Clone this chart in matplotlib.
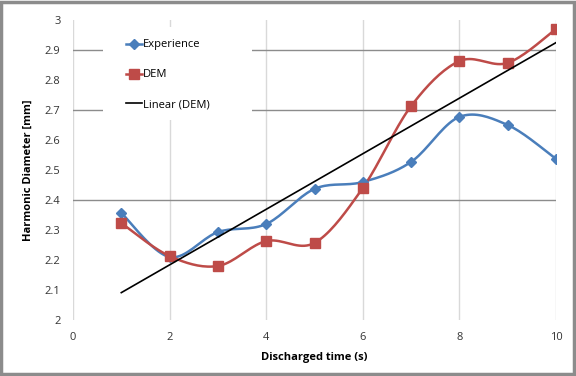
import matplotlib.pyplot as plt
import numpy as np
from matplotlib.patches import Rectangle

plt.rcParams['font.family'] = ['Open Sans', 'DejaVu Sans']

# data
time = [1, 2, 3, 4, 5, 6, 7, 8, 9, 10]
experience = [2.357, 2.21, 2.293, 2.32, 2.437, 2.46, 2.527, 2.677, 2.65, 2.537]
dem = [2.323, 2.213, 2.18, 2.263, 2.257, 2.44, 2.713, 2.863, 2.857, 2.97]
xticks = [0, 2, 4, 6, 8, 10]
yticks = [2, 2.1, 2.2, 2.3, 2.4, 2.5, 2.6, 2.7, 2.8, 2.9, 3]
hlines = [2.4, 2.7, 2.9]


def smooth(x, y, n=20):
    # Excel style smoothed line (bezier through points)
    x = np.asarray(x, float)
    y = np.asarray(y, float)
    pts = np.column_stack([x, y])
    out = []
    for i in range(len(pts) - 1):
        p0 = pts[max(i - 1, 0)]
        p1 = pts[i]
        p2 = pts[i + 1]
        p3 = pts[min(i + 2, len(pts) - 1)]
        c1 = p1 + (p2 - p0) / 6
        c2 = p2 - (p3 - p1) / 6
        t = np.linspace(0, 1, n)[:, None]
        seg = ((1 - t) ** 3 * p1 + 3 * (1 - t) ** 2 * t * c1
               + 3 * (1 - t) * t ** 2 * c2 + t ** 3 * p2)
        out.append(seg if i == 0 else seg[1:])
    seg = np.vstack(out)
    return seg[:, 0], seg[:, 1]


fig = plt.figure(figsize=(5.76, 3.76), dpi=100)
ax = fig.add_axes([73 / 576, 1 - 320 / 376, (556 - 73) / 576, 300 / 376])

for v in xticks:
    ax.axvline(v, color='#d9d9d9', lw=1, zorder=0)
for v in hlines:
    ax.axhline(v, color='#8c8c8c', lw=1, zorder=0)

# white legend area hiding the grid lines behind it
ax.add_patch(Rectangle((0.062, 0.667), 0.308, 0.31, transform=ax.transAxes,
                       facecolor='white', edgecolor='none', zorder=1))

blue = '#4a7ebb'
red = '#be4b48'

sx, sy = smooth(time, experience)
ax.plot(sx, sy, color=blue, lw=1.8, zorder=2)
ax.plot(time, experience, ls='none', marker='D', ms=5.5, color=blue, zorder=3)
ax.plot([], [], color=blue, lw=1.8, marker='D', ms=5.5, label='Experience')

sx, sy = smooth(time, dem)
ax.plot(sx, sy, color=red, lw=1.8, zorder=2)
ax.plot(time, dem, ls='none', marker='s', ms=7, color=red, zorder=3)
ax.plot([], [], color=red, lw=1.8, marker='s', ms=7, label='DEM')

coef = np.polyfit(time, dem, 1)
lx = np.array([time[0], time[-1]])
ax.plot(lx, np.polyval(coef, lx), color='black', lw=1.2, zorder=4, label='Linear (DEM)')

ax.set_xlim(0, 10)
ax.set_ylim(2, 3)
ax.set_xticks(xticks)
ax.set_yticks(yticks)
ax.set_yticklabels(['2', '2.1', '2.2', '2.3', '2.4', '2.5', '2.6', '2.7', '2.8', '2.9', '3'])
ax.tick_params(length=0, labelsize=8, colors='#333333', pad=9)
for s in ax.spines.values():
    s.set_visible(False)

ax.set_xlabel('Discharged time (s)', fontsize=8, fontweight='bold', labelpad=6)
ax.set_ylabel('Harmonic Diameter [mm]', fontsize=8, fontweight='bold', labelpad=8)

ax.legend(loc='upper left', bbox_to_anchor=(0.11, 0.935), frameon=False,
          fontsize=8, handlelength=1.4, handletextpad=0.1,
          labelspacing=1.7, borderpad=0, borderaxespad=0)

fig.patches.append(Rectangle((0.002, 0.004), 0.994, 0.99, transform=fig.transFigure,
                             fill=False, edgecolor='#8c8c8c', lw=2.5))

fig.savefig('out.png', dpi=100)
